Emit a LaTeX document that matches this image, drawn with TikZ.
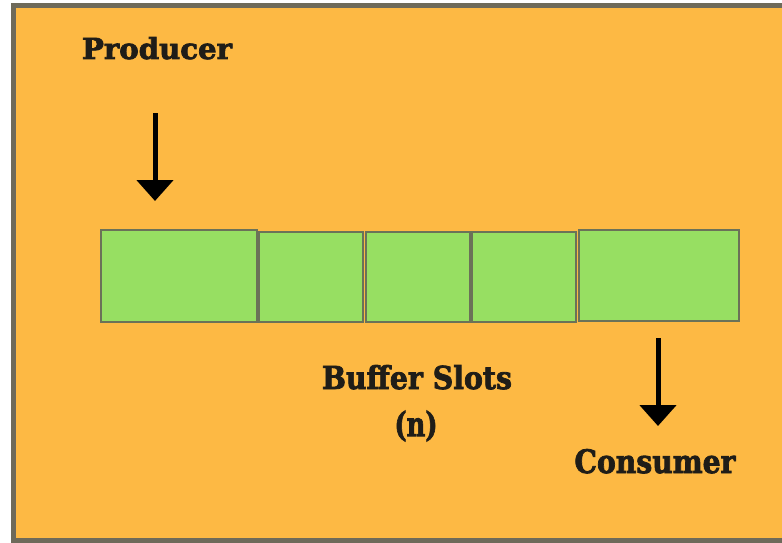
\documentclass[tikz,border=0pt]{standalone}
\usepackage{fontspec}
\usepackage{graphicx}
\setmainfont{DejaVu Serif}[BoldFeatures={FakeBold=2.5}]
\usetikzlibrary{arrows.meta}
\definecolor{bgorange}{HTML}{FDB944}
\definecolor{framegray}{HTML}{6E6A5A}
\definecolor{slotgreen}{HTML}{97DF62}
\definecolor{slotedge}{HTML}{6B7258}
\definecolor{inkdark}{HTML}{1F1D18}
\tikzset{
  slot/.style={draw=slotedge, line width=2pt, fill=slotgreen, inner sep=0pt, anchor=north west},
  lbl/.style={text=inkdark, inner sep=0pt, font=\bfseries\fontsize{27}{30}\selectfont},
  bigarrow/.style={draw=black, line width=5pt, -{Triangle[width=36pt,length=21pt]}}
}
\begin{document}
\begin{tikzpicture}[x=1pt,y=-1pt]
\useasboundingbox (0,0) rectangle (782,543);
\clip (0,0) rectangle (782,543);
\fill[white] (0,0) rectangle (782,543);
\draw[framegray, line width=5pt, fill=bgorange] (13.5,5.5) rectangle (800,540.5);
% slots
\node[slot, minimum width=156pt, minimum height=92pt] (s1) at (100,229) {};
\node[slot, minimum width=104pt, minimum height=90pt] (s2) at (258,231) {};
\node[slot, minimum width=104pt, minimum height=90pt] (s3) at (365,231) {};
\node[slot, minimum width=104pt, minimum height=90pt] (s4) at (471,231) {};
\node[slot, minimum width=160pt, minimum height=91pt] (s5) at (578,229) {};
% labels
\node[lbl, anchor=base] (prod) at (157,59) {\resizebox{150pt}{22pt}{Producer}};
\node[lbl, anchor=base] (buf) at (417,389) {\resizebox{190pt}{24pt}{Buffer Slots}};
\node[lbl] (n) at (416,426) {\resizebox*{43pt}{31pt}{(n)}};
\node[lbl, anchor=base] (cons) at (655,473) {\resizebox{161pt}{24pt}{Consumer}};
% arrows
\coordinate (p1) at (155,113);
\coordinate (p2) at (155,201);
\coordinate (c1) at (658,338);
\coordinate (c2) at (658,426);
\draw[bigarrow] (p1) -- (p2);
\draw[bigarrow] (c1) -- (c2);
\end{tikzpicture}
\end{document}
